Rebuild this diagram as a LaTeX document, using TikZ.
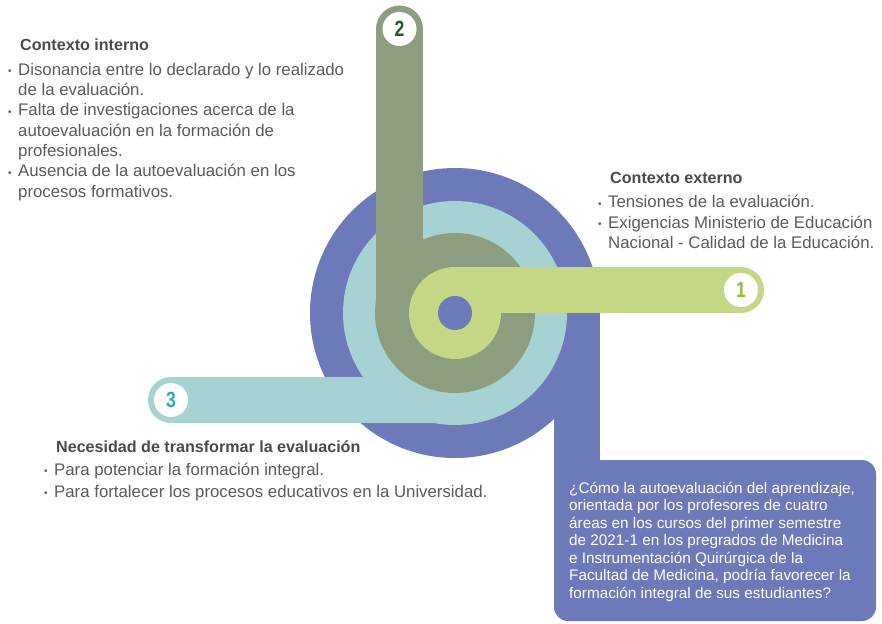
\documentclass[tikz,border=0pt]{standalone}
\usepackage{fontspec}
\setmainfont{Liberation Sans}
\newfontfamily\numfont[FakeStretch=0.8]{Liberation Sans}
\definecolor{blueband}{HTML}{6C7AB9}
\definecolor{tealband}{HTML}{A6D2D3}
\definecolor{sageband}{HTML}{8D9D7F}
\definecolor{greenband}{HTML}{C3D785}
\definecolor{numone}{HTML}{8BBE3A}
\definecolor{numtwo}{HTML}{1D5B2C}
\definecolor{numthree}{HTML}{35A9AB}
\definecolor{txtgray}{HTML}{5A5A5A}
\definecolor{headgray}{HTML}{4A4A4A}
\newcommand{\bul}{\makebox[10pt][l]{\raisebox{0.5pt}{\fontsize{10}{10}\selectfont •}}}
\newcommand{\cont}{\hspace*{10pt}}
\newcommand{\head}[1]{\hspace*{12pt}{\color{headgray}\bfseries\fontsize{16.1}{20}\selectfont #1}}

\begin{document}
\begin{tikzpicture}[x=1pt,y=-1pt,
   band/.style={line width=#1, line cap=round},
   badge/.style={circle, fill=white, minimum size=34pt, inner sep=0pt,
      font=\numfont\bfseries\fontsize{22}{22}\selectfont},
   block/.style={anchor=north west, align=left, inner sep=0pt, text=txtgray,
      font=\fontsize{16.8}{20.35}\selectfont}]
   \useasboundingbox (0,0) rectangle (882,623);
   \coordinate (c) at (455,313);
   \coordinate (p1) at (741,290);
   \coordinate (p2) at (399.5,29);
   \coordinate (p3) at (171,400);
   % outer band and question box
   \fill[blueband] (c) circle (145pt);
   \fill[blueband] (554,313) rectangle (600,480);
   \fill[blueband, rounded corners=14pt] (554,460) rectangle (876,621);
   % band 3
   \fill[tealband] (c) circle (112pt);
   \draw[tealband, band=46pt] (p3) -- (c |- p3);
   % band 2
   \fill[sageband] (c) circle (80pt);
   \draw[sageband, band=47pt] (p2) -- (p2 |- c);
   % band 1
   \fill[greenband] (c) circle (46pt);
   \draw[greenband, band=46pt] (c |- p1) -- (p1);
   \fill[blueband] (c) circle (17pt);
   % badges
   \node[badge, text=numone] (b1) at (p1) {1};
   \node[badge, text=numtwo] (b2) at (p2) {2};
   \node[badge, text=numthree] (b3) at (p3) {3};
   % texts
   \node[block] (interno) at (8,39) {\head{Contexto interno}\\[4pt]
      \bul Disonancia entre lo declarado y lo realizado\\
      \cont de la evaluación.\\
      \bul Falta de investigaciones acerca de la\\
      \cont autoevaluación en la formación de\\
      \cont profesionales.\\
      \bul Ausencia de la autoevaluación en los\\
      \cont procesos formativos.};
   \node[block] (externo) at (598,172) {\head{Contexto externo}\\[4pt]
      \bul Tensiones de la evaluación.\\
      \bul Exigencias Ministerio de Educación\\
      \cont Nacional - Calidad de la Educación.};
   \node[block, font=\fontsize{16.8}{22}\selectfont] (necesidad) at (44,440)
      {\head{Necesidad de transformar la evaluación}\\[1pt]
      \bul Para potenciar la formación integral.\\
      \bul Para fortalecer los procesos educativos en la Universidad.};
   \node[block, text=white, font=\fontsize{15.3}{17.5}\selectfont] (pregunta) at (569,482)
      {¿Cómo la autoevaluación del aprendizaje,\\
      orientada por los profesores de cuatro\\
      áreas en los cursos del primer semestre\\
      de 2021-1 en los pregrados de Medicina\\
      e Instrumentación Quirúrgica de la\\
      Facultad de Medicina, podría favorecer la\\
      formación integral de sus estudiantes?};
\end{tikzpicture}
\end{document}
